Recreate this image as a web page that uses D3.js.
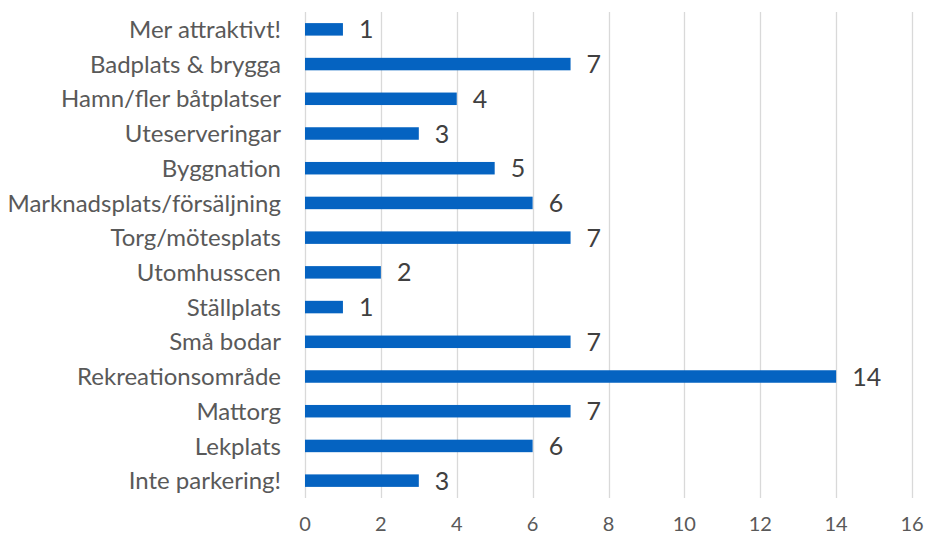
<!DOCTYPE html>
<html>
<head>
<meta charset="utf-8">
<script src="https://cdn.jsdelivr.net/npm/d3@7"></script>
<style>
  body { margin: 0; background: #fff; }
  text { font-family: Lato, "Open Sans", sans-serif; }
</style>
</head>
<body>
<div id="chart"></div>
<script>
/* DATA */

const categories = [
  "Mer attraktivt!",
  "Badplats & brygga",
  "Hamn/fler båtplatser",
  "Uteserveringar",
  "Byggnation",
  "Marknadsplats/försäljning",
  "Torg/mötesplats",
  "Utomhusscen",
  "Ställplats",
  "Små bodar",
  "Rekreationsområde",
  "Mattorg",
  "Lekplats",
  "Inte parkering!"
];
const values = [1, 7, 4, 3, 5, 6, 7, 2, 1, 7, 14, 7, 6, 3];
const ticks = [0, 2, 4, 6, 8, 10, 12, 14, 16];

/* SET UP */

const w = 926;
const h = 538;
const m = { top: 12, right: 14, bottom: 40, left: 305 };

const svg = d3
  .select("#chart")
  .append("svg")
  .attr("width", w)
  .attr("height", h);

const x = d3.scaleLinear().domain([0, 16]).range([m.left, w - m.right]);

const y = d3
  .scaleBand()
  .domain(categories)
  .range([m.top, h - m.bottom])
  .paddingInner(0.64)
  .paddingOuter(0.32);

// gridlines
svg
  .append("g")
  .selectAll("line")
  .data(ticks)
  .join("line")
  .attr("x1", (d) => Math.round(x(d)) + 0.5)
  .attr("x2", (d) => Math.round(x(d)) + 0.5)
  .attr("y1", m.top)
  .attr("y2", h - m.bottom)
  .attr("stroke", "#d9d9d9")
  .attr("stroke-width", 1.3);

// bars
const data = categories.map((c, i) => ({ cat: c, val: values[i] }));

svg
  .append("g")
  .selectAll("rect")
  .data(data)
  .join("rect")
  .attr("x", x(0))
  .attr("y", (d) => y(d.cat))
  .attr("width", (d) => x(d.val) - x(0))
  .attr("height", y.bandwidth())
  .attr("fill", "#0563c1");

// value labels
svg
  .append("g")
  .selectAll("text")
  .data(data)
  .join("text")
  .attr("x", (d) => x(d.val) + 16)
  .attr("y", (d) => y(d.cat) + y.bandwidth() / 2)
  .attr("dy", "0.36em")
  .attr("font-size", 25)
  .attr("fill", "#404040")
  .text((d) => d.val);

// category labels
svg
  .append("g")
  .selectAll("text")
  .data(categories)
  .join("text")
  .attr("x", m.left - 24)
  .attr("y", (d) => y(d) + y.bandwidth() / 2)
  .attr("dy", "0.36em")
  .attr("text-anchor", "end")
  .attr("font-size", 24)
  .attr("fill", "#595959")
  .text((d) => d);

// x axis tick labels
svg
  .append("g")
  .selectAll("text")
  .data(ticks)
  .join("text")
  .attr("x", (d) => x(d))
  .attr("y", h - 14)
  .attr("dy", "0.36em")
  .attr("text-anchor", "middle")
  .attr("font-size", 20)
  .attr("fill", "#595959")
  .text((d) => d);
</script>
</body>
</html>
